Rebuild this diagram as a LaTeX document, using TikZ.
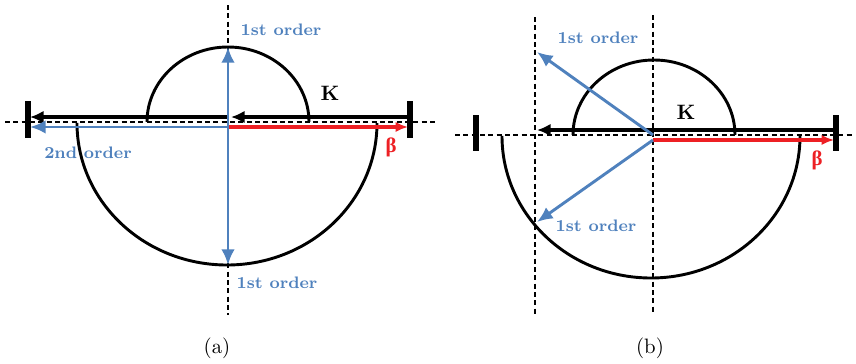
\documentclass[tikz,border=0pt]{standalone}
\usepackage{amsmath,amssymb}
\usepackage{fontspec}
\newfontfamily\grkfont{Liberation Serif}
\usepackage{tikz}
\usetikzlibrary{arrows.meta,positioning}
\usepackage{xcolor}
\definecolor{ordblue}{RGB}{79,129,189}
\definecolor{betared}{RGB}{237,32,36}
\tikzset{
  axis/.style   ={line width=0.75pt, dash pattern=on 2.4pt off 1.6pt},
  shell/.style  ={line width=1.4pt},
  kvec/.style   ={-{Latex[length=6.5pt,width=6pt]}, line width=1.5pt},
  ovec/.style   ={-{Latex[length=7.5pt,width=6.5pt]}, line width=1.4pt,
                  ordblue},
  bvec/.style   ={-{Latex[length=6pt,width=5pt]}, line width=1.6pt,
                  betared},
  endbar/.style ={line width=2.5pt},
  ordlbl/.style ={font=\footnotesize\bfseries, text=ordblue},
  klbl/.style   ={font=\bfseries},
  blbl/.style   ={font=\grkfont\bfseries, text=betared},
  capt/.style   ={font=\normalsize},
}
\begin{document}
\begin{tikzpicture}[x=0.48pt, y=0.48pt]
\useasboundingbox (0,0) rectangle (856,363);
\coordinate (oa) at (228,241);
\coordinate (ob) at (653,228);
\coordinate (hal) at (5,241);
\coordinate (har) at (436,241);
\coordinate (vat) at (228,358);
\coordinate (vab) at (228,48);
\coordinate (barl) at (28,262);
\coordinate (barr) at (410,262);
\coordinate (kar) at (408,246);
\coordinate (kam) at (231,246);
\coordinate (kas) at (228,246);
\coordinate (kal) at (30,246);
\coordinate (lowa) at (228,236);
\coordinate (sal) at (30,236);
\coordinate (bar) at (408,236);
\coordinate (upa) at (228,316);
\coordinate (dna) at (228,98);
\draw[axis] (hal) -- (har);
\draw[axis] (vat) -- (vab);
\draw[shell] (147,241) arc[start angle=180, end angle=0,
  x radius=81, y radius=75];
\draw[shell] (77,240) arc[start angle=180, end angle=360,
  x radius=150, y radius=142];
\draw[endbar] (barl) -- ++(0,-37);
\draw[endbar] (barr) -- ++(0,-37);
\draw[kvec] (kar) -- (kam);
\draw[kvec] (kas) -- (kal);
\draw[ovec] (lowa) -- (sal);
\draw[bvec] (lowa) -- (bar);
\draw[ovec] (oa) -- (upa);
\draw[ovec] (oa) -- (dna);
\node[ordlbl] (o1a) at (281,333) {1st order};
\node[klbl] (ka) at (330,270) {K};
\node[blbl] (ba) at (391,216) {β};
\node[ordlbl] (o2a) at (88,210) {2nd order};
\node[ordlbl] (o3a) at (277,80) {1st order};
\node[capt] (ca) at (217,15) {(a)};
\coordinate (hbl) at (455,228);
\coordinate (hbr) at (853,228);
\coordinate (vbt) at (653,348);
\coordinate (vbb) at (653,48);
\coordinate (wbt) at (535,346);
\coordinate (wbb) at (535,48);
\coordinate (bbl) at (476,248);
\coordinate (bbr) at (836,248);
\coordinate (kbr) at (834,233);
\coordinate (kbl) at (537,233);
\coordinate (lowb) at (653,223);
\coordinate (bbe) at (834,223);
\coordinate (upb) at (537,311);
\coordinate (dnb) at (537,141);
\draw[axis] (hbl) -- (hbr);
\draw[axis] (vbt) -- (vbb);
\draw[axis] (wbt) -- (wbb);
\draw[shell] (573,228) arc[start angle=180, end angle=0,
  x radius=81, y radius=75];
\draw[shell] (502,227) arc[start angle=180, end angle=360,
  x radius=149, y radius=142];
\draw[endbar] (bbl) -- ++(0,-36);
\draw[endbar] (bbr) -- ++(0,-36);
\draw[kvec] (kbr) -- (kbl);
\draw[bvec] (lowb) -- (bbe);
\draw[ovec] (ob) -- (upb);
\draw[ovec] (lowb) -- (dnb);
\node[ordlbl] (o1b) at (598,325) {1st order};
\node[klbl] (kb) at (686,251) {K};
\node[blbl] (bb) at (817,203) {β};
\node[ordlbl] (o3b) at (596,137) {1st order};
\node[capt] (cb) at (650,15) {(b)};
\end{tikzpicture}
\end{document}
